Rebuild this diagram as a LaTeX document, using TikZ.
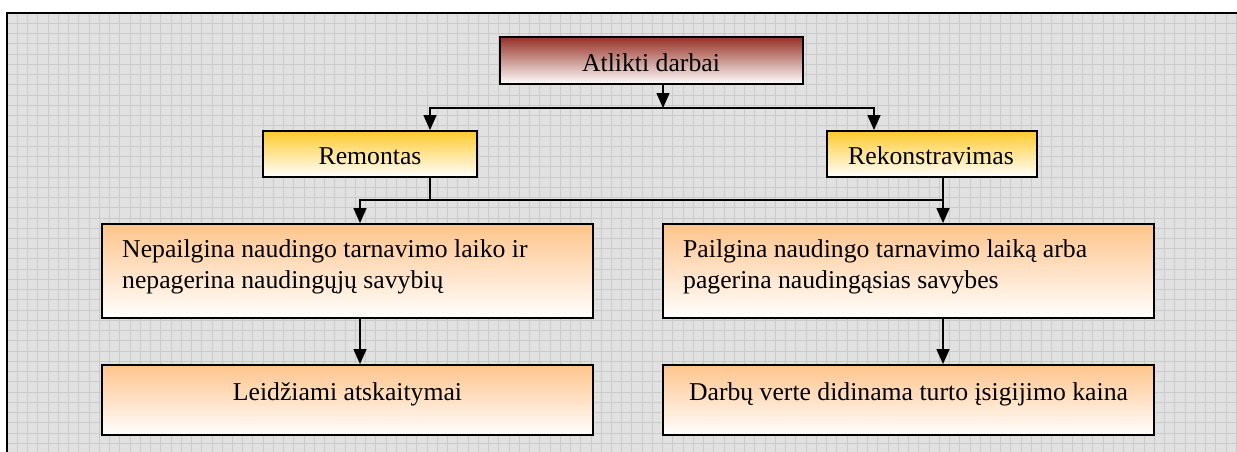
\documentclass[tikz,border=0pt]{standalone}
\usepackage{fontspec}
\setmainfont{Liberation Serif}
\usetikzlibrary{arrows.meta,calc}
\definecolor{panelbg}{RGB}{225,225,225}
\definecolor{gridln}{RGB}{203,203,203}
\definecolor{topred}{RGB}{150,48,36}
\definecolor{gold}{RGB}{255,202,45}
\definecolor{peach}{RGB}{255,196,140}
\begin{document}
\begin{tikzpicture}[x=1pt,y=-1pt,
  box/.style={draw=black, line width=1.8pt, rectangle, inner sep=0pt},
  redbox/.style={box, top color=topred, bottom color=white},
  goldbox/.style={box, top color=gold, bottom color=white},
  peachbox/.style={box, top color=peach, bottom color=white},
  txt/.style={inner sep=0pt, font=\fontsize{25.7}{31.5}\selectfont},
  conn/.style={line width=1.3pt},
  arr/.style={conn, -{Triangle[length=15pt,width=13pt]}}]

% page and grid panel
\useasboundingbox (0,0) rectangle (1237,452);
\fill[white] (0,0) rectangle (1237,452);
\fill[panelbg] (7,13) rectangle (1237,452);
\foreach \i in {1,...,120} \draw[gridln, line width=0.7pt] ({7+10.243*\i},13) -- ({7+10.243*\i},452);
\foreach \j in {1,...,43} \draw[gridln, line width=0.7pt] (7,{13+10.243*\j}) -- (1237,{13+10.243*\j});
\draw[line width=2pt] (7,452) -- (7,13) -- (1237,13);

% boxes
\node[redbox, minimum width=303pt, minimum height=47pt] (top) at (651.5,60.5) {};
\node[goldbox, minimum width=214pt, minimum height=46pt] (rem) at (370,154) {};
\node[goldbox, minimum width=210pt, minimum height=46pt] (rek) at (932,154) {};
\node[peachbox, minimum width=491pt, minimum height=94pt] (nep) at (347.5,271) {};
\node[peachbox, minimum width=491pt, minimum height=94pt] (pai) at (908.5,271) {};
\node[peachbox, minimum width=491pt, minimum height=70pt] (lei) at (347.5,400) {};
\node[peachbox, minimum width=491pt, minimum height=70pt] (dar) at (908.5,400) {};

% texts
\node[txt, anchor=base] (t-top) at (651,72) {Atlikti darbai};
\node[txt, anchor=base] (t-rem) at (370,164) {Remontas};
\node[txt, anchor=base] (t-rek) at (931,164) {Rekonstravimas};
\node[txt, anchor=base west] (t-nep) at (122,257)
  {\parbox[t]{460pt}{\fontsize{25.7}{31.5}\selectfont Nepailgina naudingo tarnavimo laiko ir\\ nepagerina naudingųjų savybių}};
\node[txt, anchor=base west] (t-pai) at (683,257)
  {\parbox[t]{460pt}{\fontsize{25.7}{31.5}\selectfont Pailgina naudingo tarnavimo laiką arba\\ pagerina naudingąsias savybes}};
\node[txt, anchor=base] (t-lei) at (347.5,400) {Leidžiami atskaitymai};
\node[txt, anchor=base] (t-dar) at (908.5,400) {Darbų verte didinama turto įsigijimo kaina};

% junction points of the connectors
\coordinate (j1) at (663,108);
\coordinate (jl) at (430,108);
\coordinate (jr) at (874,108);
\coordinate (k1) at (430,200);
\coordinate (kl) at (360,200);
\coordinate (kr) at (943,200);

% connectors
\draw[arr] (j1 |- top.south) -- (j1);
\draw[arr] (j1) -| (jl |- rem.north);
\draw[arr] (j1) -| (jr |- rek.north);
\draw[conn] (k1 |- rem.south) -- (k1) -- (kr);
\draw[arr] (k1) -| (kl |- nep.north);
\draw[arr] (kr |- rek.south) -- (kr |- pai.north);
\draw[arr] (kl |- nep.south) -- (kl |- lei.north);
\draw[arr] (kr |- pai.south) -- (kr |- dar.north);
\end{tikzpicture}
\end{document}
